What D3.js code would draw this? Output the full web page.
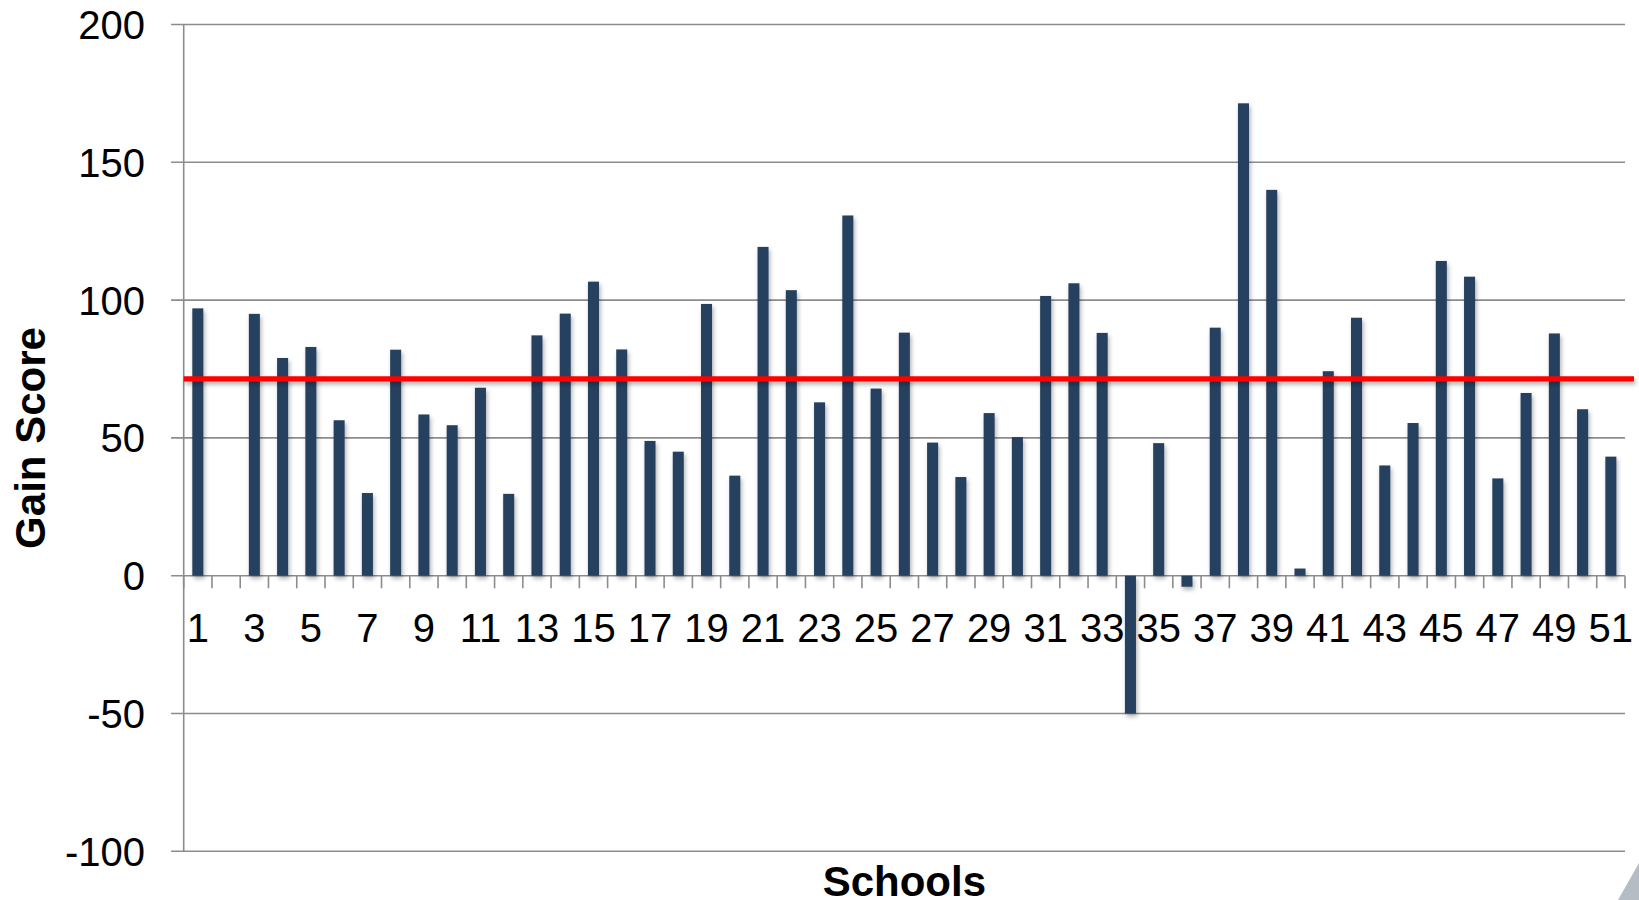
<!DOCTYPE html>
<html>
<head>
<meta charset="utf-8">
<script src="https://cdn.jsdelivr.net/npm/d3@7/dist/d3.min.js"></script>
<style>
  html, body { margin: 0; padding: 0; background: #ffffff; }
  svg { display: block; }
  text { font-family: "Liberation Sans", Arial, sans-serif; fill: #000; }
</style>
</head>
<body>
<svg id="chart" width="1639" height="900"></svg>
<script>
// School identifiers along the category axis
const schools = d3.range(1, 52).map(String);

// Gain score per school (school 2 has no score)
const gainScores = [
  97, null, 95, 79, 83, 56.4, 30, 82, 58.5, 54.6,
  68.2, 29.7, 87.2, 95.1, 106.7, 82.1, 48.9, 45, 98.6, 36.3,
  119.3, 103.6, 62.9, 130.7, 67.9, 88.2, 48.3, 35.8, 59, 50.3,
  101.5, 106.1, 88.1, -50, 48.1, -4, 90, 171.4, 140, 2.6,
  74.2, 93.6, 40, 55.4, 114.2, 108.5, 35.3, 66.3, 87.9, 60.4,
  43.2
];

// Axis tick values
const yTicks = [-100, -50, 0, 50, 100, 150, 200];
const xTickLabels = schools.filter((s, i) => i % 2 === 0);

const yTitle = "Gain Score";
const xTitle = "Schools";

const rows = schools.map((s, i) => ({ school: s, value: gainScores[i] }));
const average = d3.mean(gainScores.filter(v => v !== null));

const svg = d3.select("#chart");

const plotLeft = 183.7, plotRight = 1625, plotTop = 24.5, plotBottom = 851.3;

const x = d3.scaleBand()
  .domain(schools)
  .range([plotLeft, plotRight])
  .paddingInner(0.61)
  .paddingOuter(0.305);

const y = d3.scaleLinear().domain([-100, 200]).range([plotBottom, plotTop]);

// Soft drop shadow, defined in page space so thin horizontal lines keep it too
const defs = svg.append("defs");
const shadow = defs.append("filter").attr("id", "soft-shadow")
  .attr("filterUnits", "userSpaceOnUse")
  .attr("x", 0).attr("y", 0).attr("width", 1639).attr("height", 900);
shadow.append("feDropShadow")
  .attr("dx", 1.5).attr("dy", 3).attr("stdDeviation", 2.2)
  .attr("flood-color", "#000").attr("flood-opacity", 0.3);

// Horizontal gridlines (they also serve as the left tick marks)
svg.append("g")
  .selectAll("line")
  .data(yTicks)
  .join("line")
  .attr("x1", plotLeft - 12.6)
  .attr("x2", plotRight)
  .attr("y1", d => y(d))
  .attr("y2", d => y(d))
  .attr("stroke", "#8c8c8c")
  .attr("stroke-width", 1.6);

// Vertical value axis line
svg.append("line")
  .attr("x1", plotLeft).attr("x2", plotLeft)
  .attr("y1", y(200)).attr("y2", y(-100))
  .attr("stroke", "#8c8c8c").attr("stroke-width", 1.6);

// Value axis labels
svg.append("g")
  .selectAll("text")
  .data(yTicks)
  .join("text")
  .attr("x", 145)
  .attr("y", d => y(d))
  .attr("dy", "0.36em")
  .attr("text-anchor", "end")
  .style("font-size", "40px")
  .text(d => d);

// Category tick marks at slot boundaries along the zero line
const step = x.step();
const boundaries = d3.range(0, schools.length + 1).map(i => plotLeft + i * step);
svg.append("g")
  .selectAll("line")
  .data(boundaries)
  .join("line")
  .attr("x1", d => d).attr("x2", d => d)
  .attr("y1", y(0)).attr("y2", y(0) + 12.6)
  .attr("stroke", "#8c8c8c").attr("stroke-width", 1.6);

// Category labels (every other school)
svg.append("g")
  .selectAll("text")
  .data(xTickLabels)
  .join("text")
  .attr("x", d => x(d) + x.bandwidth() / 2)
  .attr("y", 641.7)
  .attr("text-anchor", "middle")
  .style("font-size", "40px")
  .text(d => d);

// Bars
svg.append("g")
  .attr("filter", "url(#soft-shadow)")
  .selectAll("rect")
  .data(rows.filter(d => d.value !== null))
  .join("rect")
  .attr("x", d => x(d.school))
  .attr("width", x.bandwidth())
  .attr("y", d => y(Math.max(0, d.value)))
  .attr("height", d => Math.abs(y(d.value) - y(0)))
  .attr("fill", "#253f5f");

// Average line
svg.append("line")
  .attr("filter", "url(#soft-shadow)")
  .attr("x1", plotLeft).attr("x2", 1634)
  .attr("y1", y(average)).attr("y2", y(average))
  .attr("stroke", "#ff0000").attr("stroke-width", 5.3);

// Axis titles
svg.append("text")
  .attr("transform", `translate(45,438) rotate(-90)`)
  .attr("text-anchor", "middle")
  .style("font-size", "42px")
  .style("font-weight", "bold")
  .text(yTitle);

svg.append("text")
  .attr("x", (plotLeft + plotRight) / 2)
  .attr("y", 896)
  .attr("text-anchor", "middle")
  .style("font-size", "42px")
  .style("font-weight", "bold")
  .text(xTitle);

// Corner decoration
svg.append("path")
  .attr("d", "M1639,863 L1618,900 L1639,900 Z")
  .attr("fill", "#b5bcc4");
</script>
</body>
</html>
